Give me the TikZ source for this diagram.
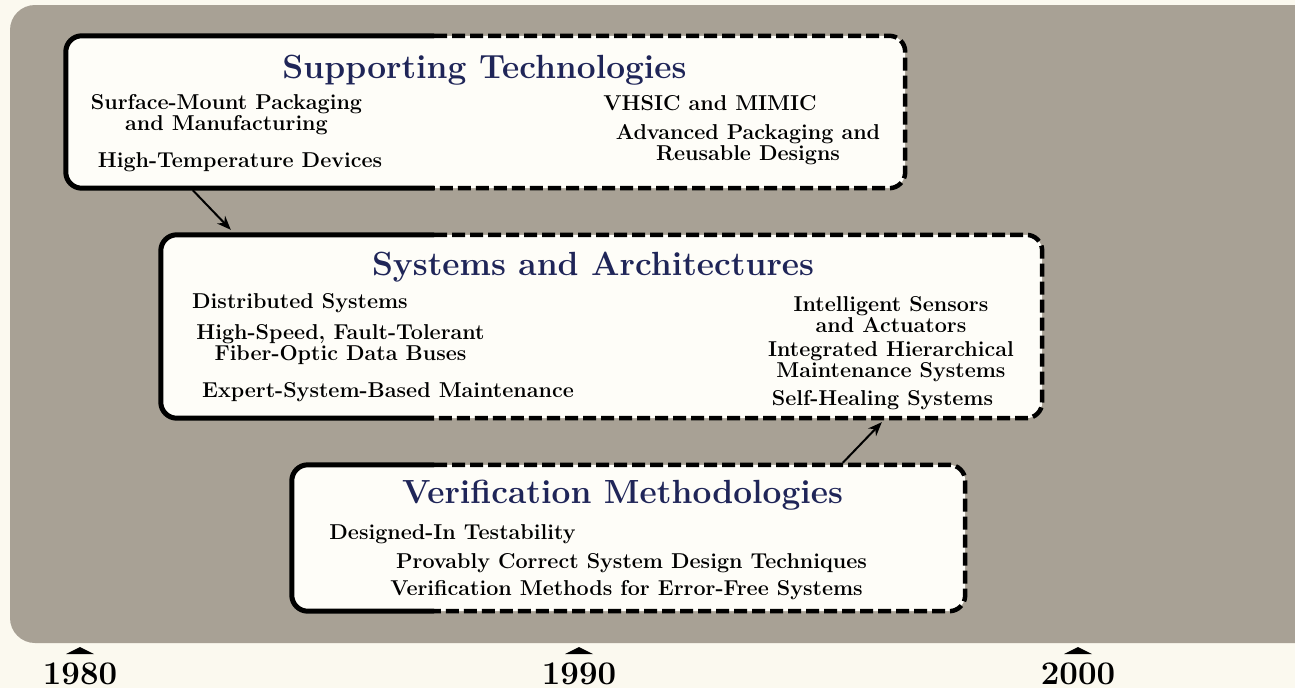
\documentclass[tikz,border=0pt]{standalone}
\usepackage{fontspec}
\usetikzlibrary{arrows.meta,calc}
\definecolor{bgcream}{HTML}{FBF9EF}
\definecolor{panelgray}{HTML}{A8A195}
\definecolor{boxfill}{HTML}{FEFDF8}
\definecolor{titleblue}{HTML}{1F2558}
\tikzset{
  frame/.style={rectangle, draw=none, fill=none, inner sep=0pt},
  solidedge/.style={line width=5pt, rounded corners=16pt, line join=round},
  dashedge/.style={line width=4.5pt, rounded corners=16pt, dash pattern=on 13pt off 5pt},
  boxtitle/.style={font=\bfseries\fontsize{33.5}{36}\selectfont, text=titleblue, anchor=base, inner sep=0pt},
  item/.style={font=\bfseries\fontsize{21.5}{21}\selectfont, align=center, anchor=base, inner sep=0pt},
  year/.style={font=\bfseries\fontsize{33}{36}\selectfont, anchor=base, inner sep=0pt},
  conn/.style={line width=2pt, -{Stealth[length=14pt,width=11pt]}},
}
\begin{document}
\begin{tikzpicture}[x=1pt, y=-1pt]
\useasboundingbox (0,0) rectangle (1295,688);
\fill[bgcream] (0,0) rectangle (1295,688);
\begin{scope}
  \clip (0,0) rectangle (1295,688);
  \fill[panelgray, rounded corners=25pt] (10,5) rectangle (1340,643);
\end{scope}
\coordinate (split) at (434,0);

% frames
\node[frame, minimum width=839pt, minimum height=152pt] (st) at (485.5,112) {};
\node[frame, minimum width=881pt, minimum height=183pt] (sa) at (601.5,326.5) {};
\node[frame, minimum width=673pt, minimum height=146pt] (vm) at (628.5,538) {};

\foreach \b in {st,sa,vm}{
  \fill[boxfill, rounded corners=16pt] (\b.north west) rectangle (\b.south east);
  \draw[solidedge] (\b.north -| split) -- (\b.north west) -- (\b.south west) -- (\b.south -| split);
  \draw[dashedge] (\b.north -| split) -- (\b.north east) -- (\b.south east) -- (\b.south -| split);
}

% Supporting Technologies
\node[boxtitle] (sttitle) at (484.5,78) {Supporting Technologies};
\node[item] (st1) at (226.5,130) {Surface-Mount Packaging\\and Manufacturing};
\node[item] (st2) at (240,167) {High-Temperature Devices};
\node[item] (st3) at (710,110) {VHSIC and MIMIC};
\node[item] (st4) at (748,160) {Advanced Packaging and\\Reusable Designs};

% Systems and Architectures
\node[boxtitle] (satitle) at (593,275) {Systems and Architectures};
\node[item] (sa1) at (300,308) {Distributed Systems};
\node[item] (sa2) at (340.5,360) {High-Speed, Fault-Tolerant\\Fiber-Optic Data Buses};
\node[item] (sa3) at (388,397) {Expert-System-Based Maintenance};
\node[item] (sa4) at (891,332) {Intelligent Sensors\\and Actuators};
\node[item] (sa5) at (891,377) {Integrated Hierarchical\\Maintenance Systems};
\node[item] (sa6) at (882.5,405) {Self-Healing Systems};

% Verification Methodologies
\node[boxtitle] (vmtitle) at (622.5,503) {Verification Methodologies};
\node[item] (vm1) at (452.5,539) {Designed-In Testability};
\node[item] (vm2) at (631.5,568) {Provably Correct System Design Techniques};
\node[item] (vm3) at (626.5,595) {Verification Methods for Error-Free Systems};

% connectors
\draw[conn] ([xshift=127pt, yshift=-2pt]st.south west) -- ([xshift=70pt, yshift=5pt]sa.north west);
\draw[conn] ([xshift=551pt, yshift=2pt]vm.north west) -- ([xshift=721pt, yshift=-4pt]sa.south west);

% time axis
\foreach \x/\yr in {80/1980, 579/1990, 1078/2000}{
  \fill[black] (\x-14,654) -- (\x,647) -- (\x+14,654) -- cycle;
  \node[year] (y\yr) at (\x,684) {\yr};
}
\end{tikzpicture}
\end{document}
